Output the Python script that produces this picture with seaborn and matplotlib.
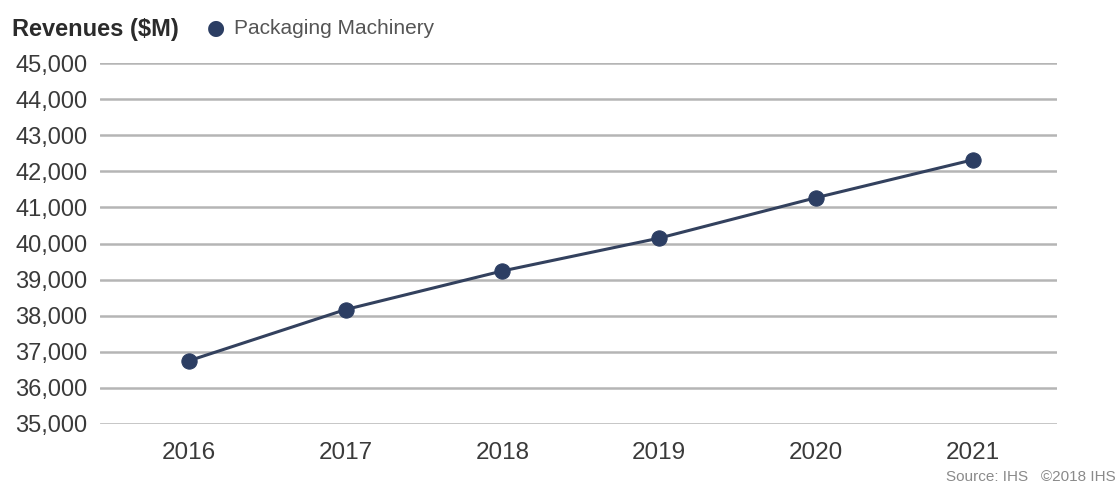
import matplotlib
matplotlib.use("Agg")
import matplotlib.pyplot as plt
import seaborn as sns
import pandas as pd
from matplotlib.ticker import FuncFormatter

years = ["2016", "2017", "2018", "2019", "2020", "2021"]
revenues = [36750, 38170, 39240, 40150, 41270, 42320]
series_name = "Packaging Machinery"
y_ticks = list(range(35000, 45001, 1000))

sns.set_theme(style="white")
plt.rcParams["font.family"] = ["Liberation Sans", "DejaVu Sans"]

df = pd.DataFrame({"year": years, "revenue": revenues})

fig = plt.figure(figsize=(11.2, 4.9), dpi=100)
ax = fig.add_axes([0.089, 0.135, 0.855, 0.736])

navy = "#2c3e63"
sns.lineplot(data=df, x="year", y="revenue", ax=ax, color="#33415e",
             linewidth=2.2, marker="o", markersize=11,
             markerfacecolor=navy, markeredgecolor=navy, sort=False)

ax.set_ylim(35000, 45000)
ax.set_xlim(-0.57, 5.54)
ax.set_yticks(y_ticks)
ax.yaxis.set_major_formatter(FuncFormatter(lambda v, p: f"{int(v):,}"))
ax.grid(axis="y", color="#b5b5b5", linewidth=1.8)
ax.grid(axis="x", visible=False)
ax.set_axisbelow(True)
for s in ax.spines.values():
    s.set_visible(False)
ax.tick_params(axis="both", length=0, colors="#3a3a3a")
ax.tick_params(axis="y", pad=9, labelsize=17)
ax.tick_params(axis="x", pad=13, labelsize=17.5)
ax.set_xlabel("")
ax.set_ylabel("")
for ln in ax.lines:
    ln.set_clip_on(False)

fig.text(0.011, 0.940, "Revenues ($M)", fontsize=17, fontweight="bold",
         color="#2b2b2b", va="center", ha="left")
fig.text(0.185, 0.942, "\u25cf", fontsize=15, color=navy, va="center", ha="left",
         family=["DejaVu Sans"])
fig.text(0.209, 0.942, series_name, fontsize=15, color="#555555",
         va="center", ha="left")
fig.text(0.996, 0.027, "Source: IHS   \u00a92018 IHS", fontsize=11,
         color="#8a8a8a", va="center", ha="right")

fig.savefig("out.png", dpi=100, facecolor="white")
